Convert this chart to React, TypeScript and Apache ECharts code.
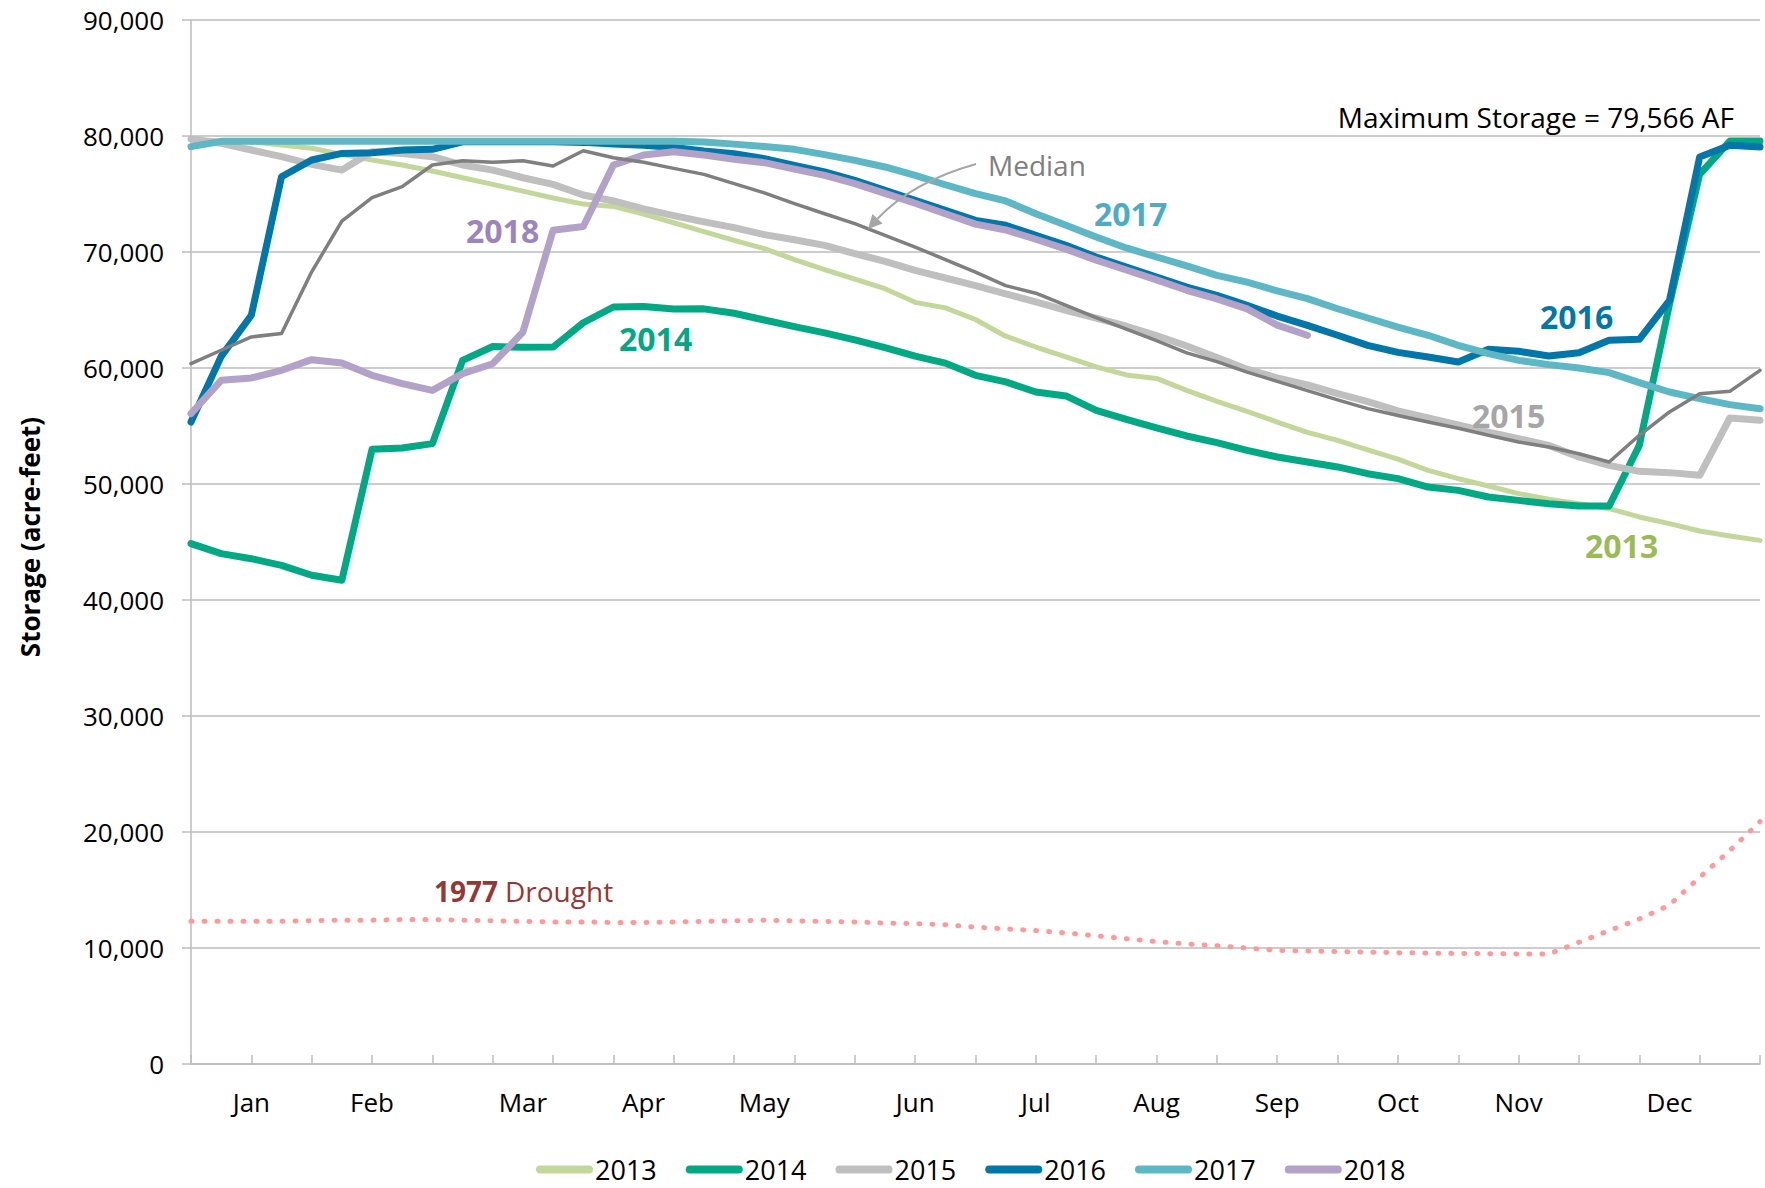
import React, { useEffect, useRef } from "react";
import * as echarts from "echarts";

// ---- categories (weekly points, Jan 1 .. Dec 31) ----
const weekCount = 53;
const weeks = Array.from({ length: weekCount }, (_, i) => `Week ${i + 1}`);
const monthNames = ["Jan", "Feb", "Mar", "Apr", "May", "Jun", "Jul", "Aug", "Sep", "Oct", "Nov", "Dec"];
const monthWeeks = [2, 6, 11, 15, 19, 24, 28, 32, 36, 40, 44, 49];

// ---- y axis ----
const yMin = 0;
const yMax = 90000;
const yInterval = 10000;

// ---- series values (acre-feet) ----
const s2013 = [79700, 79570, 79510, 79220, 78940, 78420, 77930, 77500, 76980, 76400, 75830, 75250, 74650, 74130, 73930, 73270, 72520, 71750, 71000, 70290, 69350, 68490, 67660, 66840, 65660, 65180, 64180, 62740, 61810, 60950, 60100, 59400, 59100, 58070, 57130, 56260, 55340, 54450, 53760, 52950, 52140, 51180, 50460, 49830, 49170, 48680, 48300, 47870, 47160, 46580, 45950, 45520, 45140];
const s2014 = [44860, 44000, 43560, 42990, 42130, 41700, 52990, 53100, 53480, 60660, 61850, 61780, 61800, 63900, 65260, 65300, 65080, 65100, 64720, 64140, 63570, 63030, 62430, 61760, 61020, 60420, 59370, 58800, 57930, 57590, 56350, 55570, 54830, 54140, 53560, 52900, 52330, 51900, 51470, 50890, 50460, 49740, 49450, 48880, 48590, 48300, 48100, 48100, 53330, 65500, 76700, 79566, 79566];
const s2015 = [79740, 79370, 78790, 78220, 77550, 77060, 78650, 78500, 78220, 77500, 77060, 76400, 75830, 74910, 74400, 73720, 73140, 72600, 72100, 71500, 71050, 70570, 69860, 69200, 68420, 67760, 67100, 66400, 65700, 64970, 64300, 63600, 62800, 61900, 60900, 59900, 59150, 58550, 57800, 57100, 56300, 55700, 55100, 54480, 53910, 53330, 52330, 51610, 51090, 50980, 50750, 55690, 55490];
const s2016 = [55340, 61000, 64550, 76490, 77930, 78500, 78560, 78790, 78850, 79500, 79500, 79500, 79500, 79450, 79300, 79200, 79000, 78700, 78480, 78050, 77470, 76900, 76180, 75320, 74450, 73590, 72730, 72300, 71440, 70570, 69570, 68710, 67840, 66980, 66260, 65400, 64480, 63680, 62820, 61950, 61350, 60950, 60520, 61610, 61440, 61030, 61320, 62390, 62470, 65830, 78190, 79200, 79050];
const s2017 = [79080, 79540, 79540, 79540, 79540, 79540, 79540, 79540, 79540, 79540, 79540, 79540, 79540, 79540, 79540, 79540, 79540, 79480, 79300, 79100, 78850, 78390, 77900, 77330, 76610, 75800, 75030, 74400, 73300, 72300, 71290, 70350, 69570, 68800, 67990, 67400, 66650, 65980, 65110, 64310, 63530, 62820, 61950, 61240, 60660, 60290, 60000, 59600, 58740, 57930, 57360, 56840, 56490];
const s2018 = [56060, 58940, 59140, 59800, 60720, 60430, 59370, 58650, 58070, 59510, 60370, 63100, 71880, 72200, 77500, 78360, 78650, 78360, 78000, 77700, 77150, 76600, 75900, 75050, 74200, 73300, 72400, 71900, 71100, 70250, 69300, 68450, 67600, 66700, 65950, 65100, 63700, 62820];
const sMedian = [60370, 61530, 62680, 62970, 68290, 72660, 74680, 75630, 77500, 77870, 77730, 77870, 77410, 78730, 78130, 77730, 77210, 76690, 75900, 75100, 74170, 73300, 72440, 71440, 70430, 69350, 68270, 67100, 66450, 65400, 64350, 63350, 62350, 61300, 60550, 59650, 58850, 58050, 57250, 56500, 55900, 55350, 54800, 54200, 53620, 53190, 52610, 51900, 54200, 56210, 57790, 57990, 59800];
const s1977 = [12300, 12300, 12300, 12300, 12350, 12400, 12400, 12450, 12450, 12400, 12350, 12300, 12250, 12250, 12200, 12200, 12250, 12300, 12350, 12400, 12350, 12300, 12250, 12150, 12100, 12000, 11800, 11650, 11500, 11300, 11050, 10800, 10550, 10350, 10200, 10000, 9800, 9750, 9700, 9650, 9600, 9560, 9530, 9510, 9490, 9480, 10500, 11500, 12500, 13700, 16100, 18400, 20900];

const legendNames = ["2013", "2014", "2015", "2016", "2017", "2018"];

const FONT = "'Open Sans', 'Noto Sans', sans-serif";

const C13 = "#c4d79b";
const C14 = "#00a884";
const C15 = "#bfbfbf";
const C16 = "#0077a8";
const C17 = "#5db7c4";
const C18 = "#b3a2c8";
const CMED = "#7f7f7f";
const C77 = "#ff9a9a";
const GRID = "#bcbcbc";

function lineSeries(name: string, data: number[], color: string, width: number, extra: any = {}) {
  return {
    name,
    type: "line",
    data,
    symbol: "none",
    showSymbol: false,
    silent: true,
    itemStyle: { color },
    lineStyle: { color, width, cap: "round", join: "round", ...(extra.lineStyle || {}) },
    z: extra.z ?? 2,
  };
}

function txt(text: string, x: number, y: number, color: string, size: number, weight: string = "normal", align: string = "left") {
  return {
    type: "text",
    x,
    y,
    silent: true,
    z: 50,
    style: {
      text,
      fill: color,
      fontSize: size,
      fontWeight: weight,
      fontFamily: FONT,
      align,
      verticalAlign: "middle",
    },
  };
}

export default function App() {
  const ref = useRef<HTMLDivElement>(null);

  useEffect(() => {
    if (!ref.current) return;
    const chart = echarts.init(ref.current, undefined, { renderer: "svg" });

    // arrow for "Median"
    const p0 = [976, 164];
    const p2 = [873, 224];
    const cp = [912, 182];
    const tip = [868, 229];
    const dx = p2[0] - cp[0];
    const dy = p2[1] - cp[1];
    const len = Math.sqrt(dx * dx + dy * dy);
    const ux = dx / len;
    const uy = dy / len;
    const headLen = 14;
    const headHalf = 7;
    const bx = tip[0] - ux * headLen;
    const by = tip[1] - uy * headLen;
    const nx = -uy;
    const ny = ux;

    const option: any = {
      animation: false,
      grid: { left: 191, right: 5, top: 20, bottom: 124, containLabel: false },
      xAxis: {
        type: "category",
        data: weeks,
        boundaryGap: false,
        axisLine: { show: true, lineStyle: { color: GRID, width: 1.5 } },
        axisTick: {
          show: true,
          inside: true,
          length: 9,
          interval: (idx: number) => idx % 2 === 0,
          lineStyle: { color: GRID, width: 1.5 },
        },
        axisLabel: {
          interval: 0,
          margin: 23,
          fontSize: 26,
          lineHeight: 30,
          fontFamily: FONT,
          color: "#000",
          formatter: (_v: string, idx: number) => {
            const k = monthWeeks.indexOf(idx);
            return k >= 0 ? monthNames[k] : "";
          },
        },
        splitLine: { show: false },
      },
      yAxis: {
        type: "value",
        min: yMin,
        max: yMax,
        interval: yInterval,
        axisLine: { show: true, lineStyle: { color: GRID, width: 1.5 } },
        axisTick: { show: true, length: 9, lineStyle: { color: GRID, width: 1.5 } },
        axisLabel: {
          margin: 27,
          fontSize: 26,
          fontFamily: FONT,
          color: "#000",
          formatter: (v: number) => v.toLocaleString("en-US"),
        },
        splitLine: { show: true, lineStyle: { color: GRID, width: 1.5 } },
      },
      legend: {
        data: legendNames,
        left: 531,
        top: 1151,
        orient: "horizontal",
        itemWidth: 57,
        itemHeight: 8,
        itemGap: 29,
        icon: "path://M4,0 H53 A4,4 0 0 1 53,8 H4 A4,4 0 0 1 4,0 Z",
        textStyle: { fontSize: 27, lineHeight: 27, fontFamily: FONT, color: "#000", padding: [0, 0, 0, -3] },
        selectedMode: false,
      },
      series: [
        {
          ...lineSeries("1977", s1977, C77, 5, { lineStyle: { type: [1, 12], cap: "round" } }),
        },
        lineSeries("2013", s2013, C13, 5),
        lineSeries("2014", s2014, C14, 7),
        lineSeries("2015", s2015, C15, 7),
        lineSeries("2016", s2016, C16, 7),
        lineSeries("2017", s2017, C17, 7),
        lineSeries("2018", s2018, C18, 7),
        lineSeries("Median", sMedian, CMED, 3.5),
      ],
      graphic: [
        {
          type: "text",
          x: 30,
          y: 537,
          rotation: Math.PI / 2,
          silent: true,
          style: {
            text: "Storage (acre-feet)",
            fill: "#000",
            fontSize: 26,
            fontWeight: "bold",
            fontFamily: FONT,
            align: "center",
            verticalAlign: "middle",
          },
        },
        txt("Maximum Storage = 79,566 AF", 1734, 117, "#000", 28, "normal", "right"),
        txt("Median", 988, 165, "#808080", 28),
        txt("2017", 1094, 213, "#4bacc6", 32, "bold"),
        txt("2018", 466, 230, "#9a86bd", 32, "bold"),
        txt("2014", 619, 338, "#00a884", 32, "bold"),
        txt("2016", 1540, 316, "#0077a8", 32, "bold"),
        txt("2015", 1472, 415, "#a6a6a6", 32, "bold"),
        txt("2013", 1585, 545, "#9bbb59", 32, "bold"),
        txt("1977", 434, 891, "#953735", 28, "bold"),
        txt("Drought", 505, 891, "#953735", 28),
        {
          type: "bezierCurve",
          silent: true,
          z: 40,
          shape: { x1: p0[0], y1: p0[1], x2: bx, y2: by, cpx1: cp[0], cpy1: cp[1] },
          style: { stroke: "#a6a6a6", lineWidth: 2, fill: null },
        },
        {
          type: "polygon",
          silent: true,
          z: 40,
          shape: {
            points: [
              [tip[0], tip[1]],
              [bx + nx * headHalf, by + ny * headHalf],
              [bx - nx * headHalf, by - ny * headHalf],
            ],
          },
          style: { fill: "#a6a6a6" },
        },
      ],
    };

    chart.setOption(option);
    return () => {
      chart.dispose();
    };
  }, []);

  return (
    <div
      ref={ref}
      style={{ position: "absolute", left: 0, top: 0, width: 1765, height: 1188, background: "#fff" }}
    />
  );
}
